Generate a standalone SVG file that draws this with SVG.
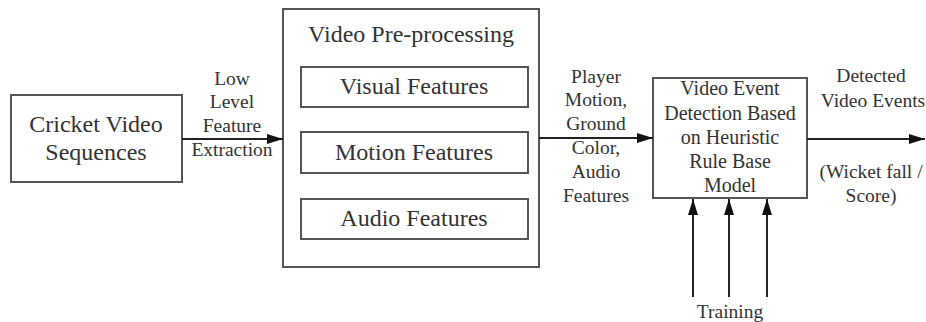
<svg xmlns="http://www.w3.org/2000/svg" width="926" height="322" viewBox="0 0 926 322">
<defs>
<marker id="arr" markerUnits="userSpaceOnUse" markerWidth="16" markerHeight="10" refX="16" refY="5" orient="auto">
<path d="M0,0 L16,5 L0,10 z" fill="#111"/>
</marker>
<style>
.box{fill:#fff;stroke:#555;stroke-width:2}
.ln{fill:none;stroke:#222;stroke-width:2;marker-end:url(#arr)}
text{font-family:"Liberation Serif","Times New Roman",serif;fill:#333;text-anchor:middle}
.big{font-size:24px}
.lbl{font-size:19.5px}
.mid{font-size:20px}
</style>
</defs>
<rect width="926" height="322" fill="#fff"/>
<g id="cricket">
<rect class="box" x="11" y="95" width="171" height="87"/>
<text class="big" x="96" y="132">Cricket Video</text>
<text class="big" x="96" y="160">Sequences</text>
</g>
<g id="preprocessing">
<rect class="box" x="283" y="9" width="256" height="258"/>
<text class="big" x="411" y="42">Video Pre-processing</text>
</g>
<g id="visual">
<rect class="box" x="301" y="67" width="227" height="40"/>
<text class="big" x="414" y="94">Visual Features</text>
</g>
<g id="motion">
<rect class="box" x="301" y="132" width="227" height="41"/>
<text class="big" x="414" y="160">Motion Features</text>
</g>
<g id="audio">
<rect class="box" x="301" y="199" width="227" height="40"/>
<text class="big" x="414" y="226">Audio Features</text>
</g>
<g id="detection">
<rect class="box" x="653" y="78" width="154" height="120"/>
<text class="mid" x="730" y="95">Video Event</text>
<text class="mid" x="730" y="120">Detection Based</text>
<text class="mid" x="730" y="144">on Heuristic</text>
<text class="mid" x="730" y="168">Rule Base</text>
<text class="mid" x="730" y="192">Model</text>
</g>
<g id="connectors">
<line class="ln" x1="182" y1="139" x2="283" y2="139"/>
<line class="ln" x1="539" y1="138" x2="653" y2="138"/>
<line class="ln" x1="807" y1="139" x2="925" y2="139"/>
<line class="ln" x1="693" y1="297" x2="693" y2="199"/>
<line class="ln" x1="729" y1="297" x2="729" y2="199"/>
<line class="ln" x1="767" y1="297" x2="767" y2="199"/>
</g>
<g id="labels">
<text class="lbl" x="232" y="85">Low</text>
<text class="lbl" x="232" y="108">Level</text>
<text class="lbl" x="232" y="132">Feature</text>
<text class="lbl" x="232" y="156">Extraction</text>
<text class="lbl" x="596" y="83">Player</text>
<text class="lbl" x="596" y="106">Motion,</text>
<text class="lbl" x="596" y="130">Ground</text>
<text class="lbl" x="596" y="154">Color,</text>
<text class="lbl" x="596" y="178">Audio</text>
<text class="lbl" x="596" y="202">Features</text>
<text class="lbl" x="871" y="82">Detected</text>
<text class="lbl" x="873" y="107">Video Events</text>
<text class="lbl" x="871" y="178">(Wicket fall /</text>
<text class="lbl" x="871" y="202">Score)</text>
<text class="lbl" x="730" y="318">Training</text>
</g>
</svg>
